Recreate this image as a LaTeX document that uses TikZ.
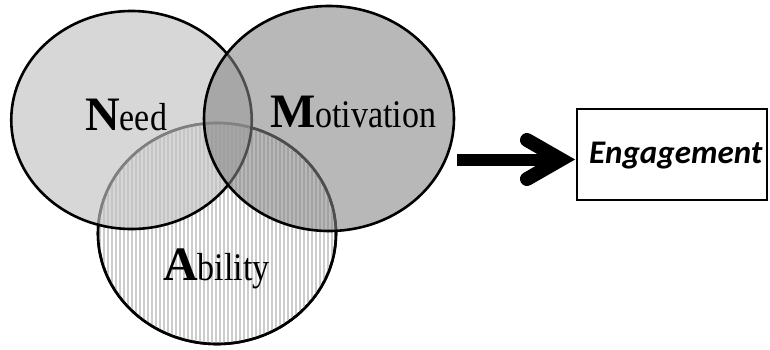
\documentclass[tikz,border=0pt]{standalone}
\usepackage{fontspec}
\setmainfont{Liberation Serif}
\newfontfamily\boxfont{Carlito}
\usetikzlibrary{shapes.geometric}

\newcommand{\initialletter}[1]{{\fontsize{48}{48}\selectfont\bfseries #1}}
\newcommand{\restword}[1]{\scalebox{1}[1.15]{\fontsize{34}{34}\selectfont #1}}

\tikzset{
  setring/.style={ellipse, draw=black, line width=2.6pt, inner sep=0pt, outer sep=0pt},
  needfill/.style={fill=black!24, fill opacity=0.66},
  motfill/.style={fill=black!48, fill opacity=0.58},
  stripe/.style={draw=black!20, line width=2pt},
  setlabel/.style={anchor=base west, inner sep=0pt},
  outcome/.style={draw=black, line width=2pt, rectangle, inner sep=0pt,
                  minimum width=190pt, minimum height=91pt},
  shaft/.style={line width=12pt, line cap=butt},
  barb/.style={line width=14pt, line cap=round, line join=miter}
}

\begin{document}
\begin{tikzpicture}[x=1pt, y=-1pt]
  \useasboundingbox (0,0) rectangle (770,350);

  % Ability: white disc with vertical stripes, drawn first
  \node[setring, fill=white, minimum width=238pt, minimum height=221pt] (abil) at (217,233.5) {};
  \begin{scope}
    \clip (217,233.5) ellipse [x radius=119, y radius=110.5];
    \foreach \x in {96,100,...,340}
      \draw[stripe] (\x,120) -- (\x,347);
  \end{scope}
  \node[setring, minimum width=238pt, minimum height=221pt] at (abil.center) {};

  % Need and Motivation: translucent grey discs on top
  \node[setring, needfill, minimum width=240.5pt, minimum height=218pt] (need) at (131.5,120) {};
  \node[setring, motfill, minimum width=250pt, minimum height=225pt] (mot) at (329,118.5) {};

  % labels
  \node[setlabel] (needtxt) at (85,130) {\initialletter{N}\restword{eed}};
  \node[setlabel] (mottxt) at (270,127) {\initialletter{M}\restword{otivation}};
  \node[setlabel] (abiltxt) at (163,280) {\initialletter{A}\restword{bility}};

  % outcome box
  \node[outcome] (eng) at (672,154.5) {};
  \node[setlabel] (engtxt) at (589,163)
    {\boxfont\fontsize{33}{33}\selectfont\bfseries\itshape Engagement};

  % thick arrow into the box
  \coordinate (tail) at (457,159.5);
  \coordinate (tip) at (eng.west |- tail);
  \draw[shaft] (tail) -- ([xshift=-14]tip);
  \draw[barb] ([shift={(-49,-19.5)}]tip) -- ([xshift=-15]tip) -- ([shift={(-49,19.5)}]tip);
\end{tikzpicture}
\end{document}
